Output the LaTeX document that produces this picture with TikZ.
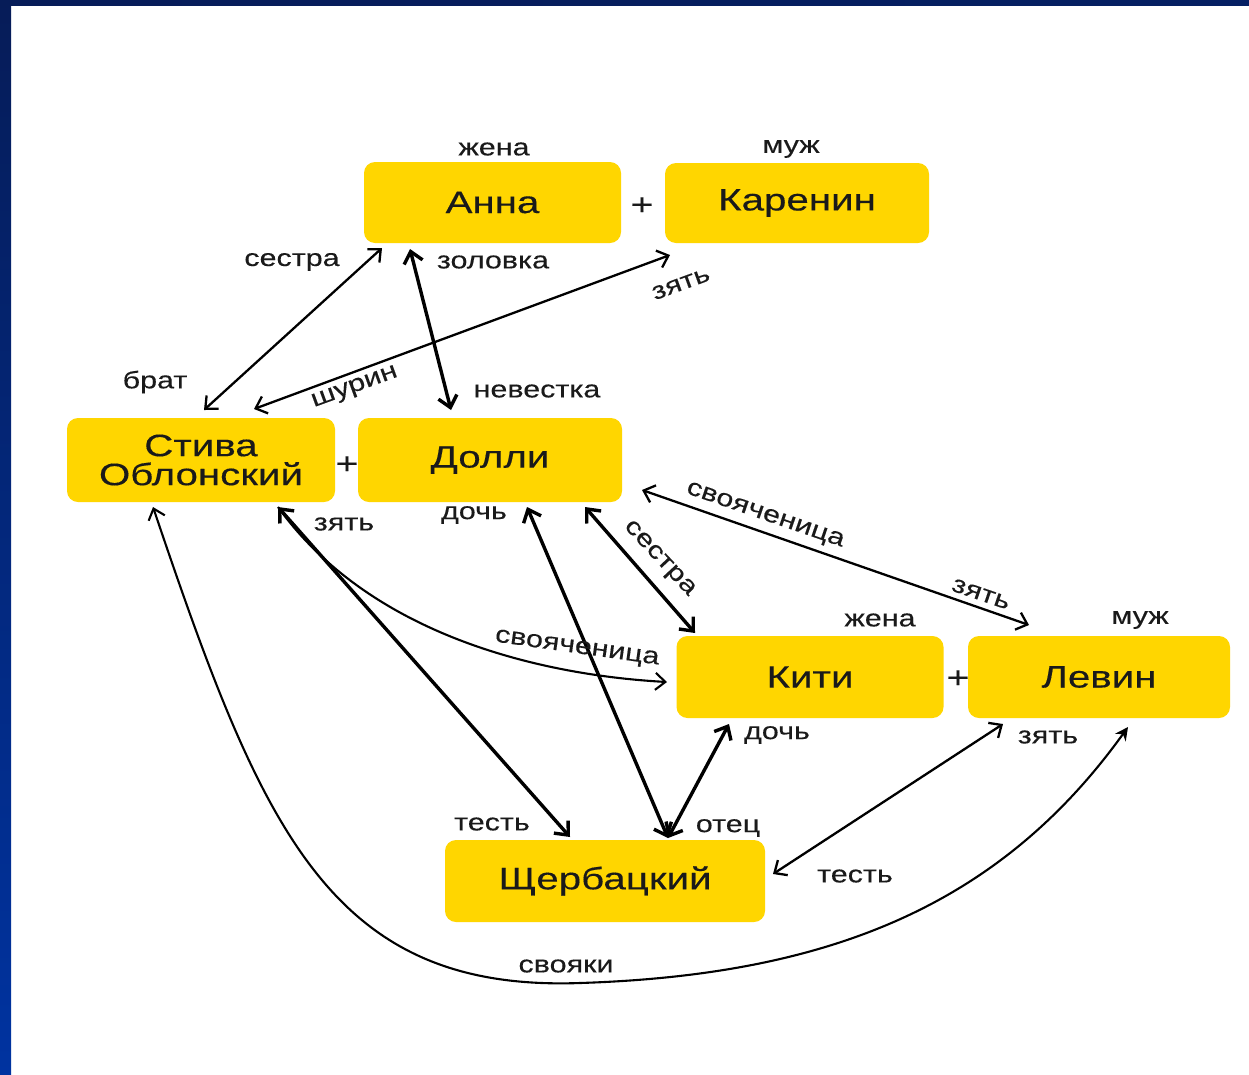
\documentclass[tikz,border=0pt]{standalone}
\usepackage{fontspec}
\setmainfont{Liberation Sans}
\newfontfamily\boxfont[FakeStretch=1.3,FakeBold=0.3]{Liberation Sans}
\newfontfamily\lblfont[FakeStretch=1.27,FakeBold=0.25]{Liberation Sans}
\usetikzlibrary{arrows.meta,calc}
\definecolor{boxyellow}{HTML}{FFD600}
\definecolor{navytop}{HTML}{061C58}
\definecolor{navybot}{HTML}{0033A0}
\definecolor{txt}{HTML}{1A1A1A}
\begin{document}
\begin{tikzpicture}[x=1pt,y=-1pt,
  person/.style={fill=boxyellow,rounded corners=11pt,inner sep=0pt,align=center,
    font=\boxfont\fontsize{31}{29}\selectfont,text=txt},
  lbl/.style={font=\lblfont\fontsize{24}{26}\selectfont,text=txt,inner sep=0pt},
  plus/.style={font=\boxfont\fontsize{30}{30}\selectfont,text=txt,inner sep=0pt},
  relthin/.style={draw=black,line width=2.3pt,{Straight Barb[length=10pt,width=18pt]}-{Straight Barb[length=10pt,width=18pt]}},
  relthick/.style={draw=black,line width=3.4pt,{Straight Barb[length=11pt,width=19pt]}-{Straight Barb[length=11pt,width=19pt]}},
  relcurve/.style={draw=black,line width=2.1pt}
]
\useasboundingbox (0,0) rectangle (1249,1074);
\fill[white] (0,0) rectangle (1249,1074);
% frame
\shade[top color=navytop,bottom color=navybot] (0,0) rectangle (11,1074);
\shade[left color=navytop,right color=navytop!85!navybot] (0,0) rectangle (1249,5);

% persons
\node[person,minimum width=257pt,minimum height=81pt] (anna) at (492.5,202.5) {Анна};
\node[person,minimum width=264pt,minimum height=80pt] (karenin) at (797,203) {Каренин};
\node[person,minimum width=268pt,minimum height=84pt] (stiva) at (201,460) {Стива\\Облонский};
\node[person,minimum width=264pt,minimum height=84pt] (dolly) at (490,460) {Долли};
\node[person,minimum width=267pt,minimum height=82pt] (kiti) at (810,677) {Кити};
\node[person,minimum width=262pt,minimum height=82pt] (levin) at (1099,677) {Левин};
\node[person,minimum width=320pt,minimum height=82pt] (scher) at (605,881) {Щербацкий};

% plus signs and role labels
\node[plus] (p1) at (642,206) {+};
\node[plus] (p2) at (347,465) {+};
\node[plus] (p3) at (958,679) {+};
\node[lbl] (l1) at (494,149) {жена};
\node[lbl] (l2) at (791,149) {муж};
\node[lbl] (l3) at (880,620) {жена};
\node[lbl] (l4) at (1140,620) {муж};

% connectors
\draw[relthin] ($(anna.center)+(-110.5,45.5)$) -- ($(stiva.center)+(3,-50)$);
\draw[relthick] ($(anna.center)+(-82.5,46.5)$) -- ($(dolly.center)+(-39,-50)$);
\draw[relthin] ($(karenin.center)+(-127,52)$) -- ($(stiva.center)+(53,-51)$);
\draw[relthick] ($(stiva.center)+(77,47)$) -- ($(scher.center)+(-35,-44)$);
\draw[relcurve,-{Straight Barb[length=10pt,width=17pt]}] ($(stiva.center)+(77,47)$) .. controls (370,635) and (540,675) .. ($(kiti.center)+(-143,5)$);
\draw[relthick] ($(dolly.center)+(37,47)$) -- ($(scher.center)+(63,-43)$);
\draw[relthick] ($(dolly.center)+(95,47)$) -- ($(kiti.center)+(-115,-44)$);
\draw[relthin] ($(dolly.center)+(152,30)$) -- ($(levin.center)+(-70,-52)$);
\draw[relthick] ($(kiti.center)+(-81,47)$) -- ($(scher.center)+(63,-43)$);
\draw[relthin] ($(levin.center)+(-96,47)$) -- ($(scher.center)+(168,-7)$);
\coordinate (svmid) at (580,983);
\draw[relcurve,{Straight Barb[length=10pt,width=17pt]}-{Stealth[length=13pt,width=13pt]}] ($(stiva.center)+(-48,47)$) .. controls (262,830) and (330,992) .. (svmid) .. controls (830,975) and (1000,905) .. ($(levin.center)+(29,50)$);

% relation labels
\node[lbl] (t1) at (292,262) {сестра};
\node[lbl] (t2) at (155,382) {брат};
\node[lbl] (t3) at (493,262) {золовка};
\node[lbl] (t4) at (537,391) {невестка};
\node[lbl,rotate=20] (t5) at (681,284) {зять};
\node[lbl,rotate=20] (t6) at (355,388) {шурин};
\node[lbl] (t7) at (344,524) {зять};
\node[lbl] (t8) at (492,824) {тесть};
\node[lbl,rotate=-8] (t9) at (577,649) {свояченица};
\node[lbl] (t10) at (474,515) {дочь};
\node[lbl] (t11) at (728,828) {отец};
\node[lbl,rotate=-47] (t12) at (659,559) {сестра};
\node[lbl,rotate=-19] (t13) at (765,516) {свояченица};
\node[lbl,rotate=-19] (t14) at (981,594) {зять};
\node[lbl] (t15) at (777,735) {дочь};
\node[lbl] (t16) at (1048,737) {зять};
\node[lbl] (t17) at (855,876) {тесть};
\node[lbl] (t18) at (566,966) {свояки};
\end{tikzpicture}
\end{document}
